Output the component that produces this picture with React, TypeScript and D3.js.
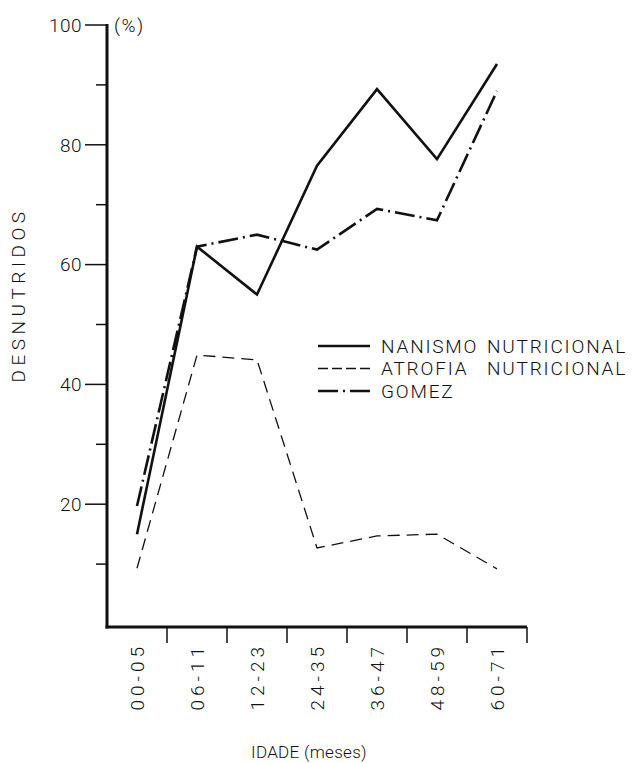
import React from "react";
import * as d3 from "d3";

const categories = ["00-05", "06-11", "12-23", "24-35", "36-47", "48-59", "60-71"];
const nanismo = [15, 63, 55, 76.5, 89.3, 77.6, 93.5];
const atrofia = [9.3, 44.9, 44.1, 12.7, 14.7, 15, 9.2];
const gomez = [19.7, 63, 65, 62.5, 69.3, 67.4, 89];
const yMajorTicks = [20, 40, 60, 80, 100];
const yMinorTicks = [10, 30, 50, 70, 90];
const legendLabels = ["NANISMO  NUTRICIONAL", "ATROFIA  NUTRICIONAL", "GOMEZ"];

const W = 635;
const H = 763;
const FONT = "Roboto, 'Liberation Sans', Arial, sans-serif";
const INK = "#111";

export default function App() {
  const x = d3.scaleBand<string>().domain(categories).range([107, 527]).padding(0);
  const y = d3.scaleLinear().domain([0, 100]).range([624, 25]);
  const axisY = 627;
  const cx = (c: string) => (x(c) as number) + x.bandwidth() / 2;

  const line = d3
    .line<number>()
    .x((_, i) => cx(categories[i]))
    .y((v) => y(v));

  const series = [
    { name: legendLabels[0], values: nanismo, width: 2.6, dash: "none", legDash: "none" },
    { name: legendLabels[1], values: atrofia, width: 1.3, dash: "12,7", legDash: "10,4" },
    { name: legendLabels[2], values: gomez, width: 2.6, dash: "20,5,2,5", legDash: "20,5,2,5" },
  ];

  return (
    <svg
      width={W}
      height={H}
      style={{ position: "absolute", left: 0, top: 0, background: "#fff" }}
      fontFamily={FONT}
      fontWeight={300}
    >
      <rect width={W} height={H} fill="#fff" />
      {/* y axis */}
      <line x1={107} x2={107} y1={y(100) - 1} y2={axisY + 1.5} stroke={INK} strokeWidth={3} />
      {yMajorTicks.map((t) => (
        <g key={"M" + t}>
          <line x1={85} x2={107} y1={y(t)} y2={y(t)} stroke={INK} strokeWidth={1.5} />
          <text x={82} y={y(t)} dy="0.36em" textAnchor="end" fontSize={19} letterSpacing={0.5} fill={INK}>
            {t}
          </text>
        </g>
      ))}
      {yMinorTicks.map((t) => (
        <line key={"m" + t} x1={96} x2={107} y1={y(t)} y2={y(t)} stroke={INK} strokeWidth={1.5} />
      ))}
      <text x={114} y={y(100)} dy="0.36em" fontSize={19} letterSpacing={1.5} fill={INK}>
        (%)
      </text>
      <text
        transform={`translate(25, 295) rotate(-90)`}
        textAnchor="middle"
        fontSize={19}
        letterSpacing={4.5}
        fill={INK}
      >
        DESNUTRIDOS
      </text>

      {/* x axis */}
      <line x1={105.5} x2={527} y1={axisY} y2={axisY} stroke={INK} strokeWidth={3} />
      {categories.map((c) => (
        <line
          key={"xt" + c}
          x1={(x(c) as number) + x.bandwidth()}
          x2={(x(c) as number) + x.bandwidth()}
          y1={axisY}
          y2={axisY + 16}
          stroke={INK}
          strokeWidth={1.5}
        />
      ))}
      {categories.map((c) => (
        <text
          key={"xl" + c}
          transform={`translate(${cx(c)}, 643) rotate(-90)`}
          textAnchor="end"
          dy="0.36em"
          fontSize={19}
          letterSpacing={4}
          fill={INK}
        >
          {c}
        </text>
      ))}
      <text x={309} y={758} textAnchor="middle" fontSize={17} letterSpacing={0.3} fill={INK}>
        IDADE (meses)
      </text>

      {/* series */}
      {series.map((s) => (
        <path
          key={s.name}
          d={line(s.values) as string}
          fill="none"
          stroke={INK}
          strokeWidth={s.width}
          strokeDasharray={s.dash}
          strokeLinejoin="miter"
        />
      ))}

      {/* legend */}
      {series.map((s, i) => {
        const parts = s.name.split("  ");
        return (
          <g key={"lg" + i} transform={`translate(0, ${346 + i * 22.5})`}>
            <line x1={318} x2={370} y1={0} y2={0} stroke={INK} strokeWidth={s.width} strokeDasharray={s.legDash} />
            <text x={381} y={0} dy="0.36em" fontSize={19} letterSpacing={1.8} fill={INK}>
              {parts[0]}
            </text>
            {parts[1] && (
              <text x={487} y={0} dy="0.36em" fontSize={19} letterSpacing={1.8} fill={INK}>
                {parts[1]}
              </text>
            )}
          </g>
        );
      })}
    </svg>
  );
}
